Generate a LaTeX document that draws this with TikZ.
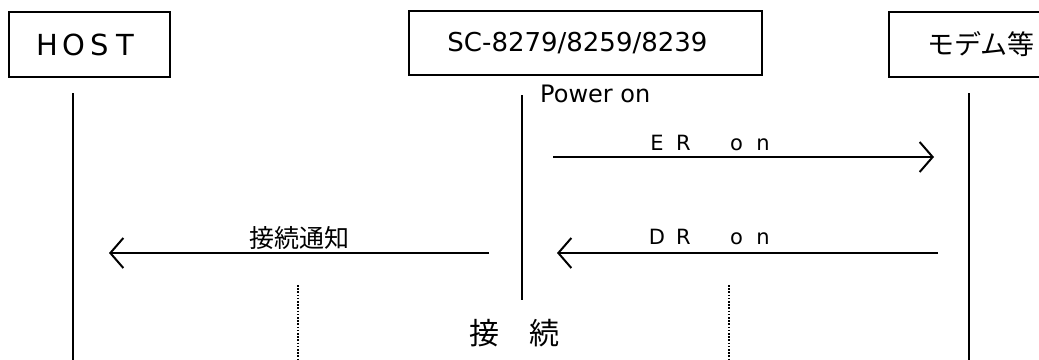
\documentclass[tikz,border=0pt]{standalone}
\usepackage{fontspec}
\setmainfont{DejaVu Sans}
\newfontfamily\jp{Noto Sans CJK JP}
\usetikzlibrary{arrows.meta}
\newcommand\fwc[1]{\makebox[26.5pt]{#1}}
\begin{document}
\begin{tikzpicture}[x=1pt,y=-1pt,
  box/.style={draw,line width=2.4pt,minimum height=65pt,inner sep=0pt},
  life/.style={line width=2.4pt},
  msg/.style={line width=2pt,-{Straight Barb[length=13pt,width=30pt]}},
  dots/.style={line width=1.6pt,dash pattern=on 1.6pt off 1.6pt},
  lbl/.style={inner sep=0pt}]
\useasboundingbox (0,0) rectangle (1039,359);
\clip (0,0) rectangle (1039,359);
% boxes
\node[box,minimum width=161pt] (host) at (89.5,44.5)
  {\fontsize{29}{32}\selectfont\hspace*{-6pt}\makebox[26pt]{H}\makebox[26pt]{O}\makebox[26pt]{S}\makebox[26pt]{T}};
\node[box,minimum width=353pt,minimum height=64pt] (sc) at (585.5,43)
  {\fontsize{26}{30}\selectfont\hspace*{-16pt}SC-8279/8259/8239};
\node[box,minimum width=176pt] (modem) at (977,44.5)
  {\jp\fontsize{27}{30}\selectfont\hspace*{8pt}モデム等};
% lifelines
\coordinate (hT) at (73,93);  \coordinate (hB) at (73,362);
\coordinate (sT) at (522,95); \coordinate (sB) at (522,300);
\coordinate (mT) at (969,93); \coordinate (mB) at (969,362);
\draw[life] (hT) -- (hB);
\draw[life] (sT) -- (sB);
\draw[life] (mT) -- (mB);
\node[lbl,anchor=base west] (power) at (540,102) {\fontsize{24}{28}\selectfont Power on};
% messages
\coordinate (erA) at (553,157); \coordinate (erB) at (934,157);
\coordinate (drA) at (938,253); \coordinate (drB) at (557,253);
\coordinate (cnA) at (489,253); \coordinate (cnB) at (109,253);
\draw[msg] (erA) -- (erB);
\draw[msg] (drA) -- (drB);
\draw[msg] (cnA) -- (cnB);
\node[lbl] (erl) at (710,142.5) {\fontsize{21}{24}\selectfont\fwc{E}\fwc{R}\fwc{}\fwc{o}\fwc{n}};
\node[lbl] (drl) at (710,236.5) {\fontsize{21}{24}\selectfont\fwc{D}\fwc{R}\fwc{}\fwc{o}\fwc{n}};
\node[lbl] (cnl) at (299,238) {\jp\fontsize{25}{28}\selectfont 接続通知};
% connection period
\coordinate (d1T) at (298,285); \coordinate (d1B) at (298,362);
\coordinate (d2T) at (729,285); \coordinate (d2B) at (729,362);
\draw[dots] (d1T) -- (d1B);
\draw[dots] (d2T) -- (d2B);
\node[lbl] (conn) at (514,333) {\jp\fontsize{30}{34}\selectfont 接　続};
\end{tikzpicture}
\end{document}
